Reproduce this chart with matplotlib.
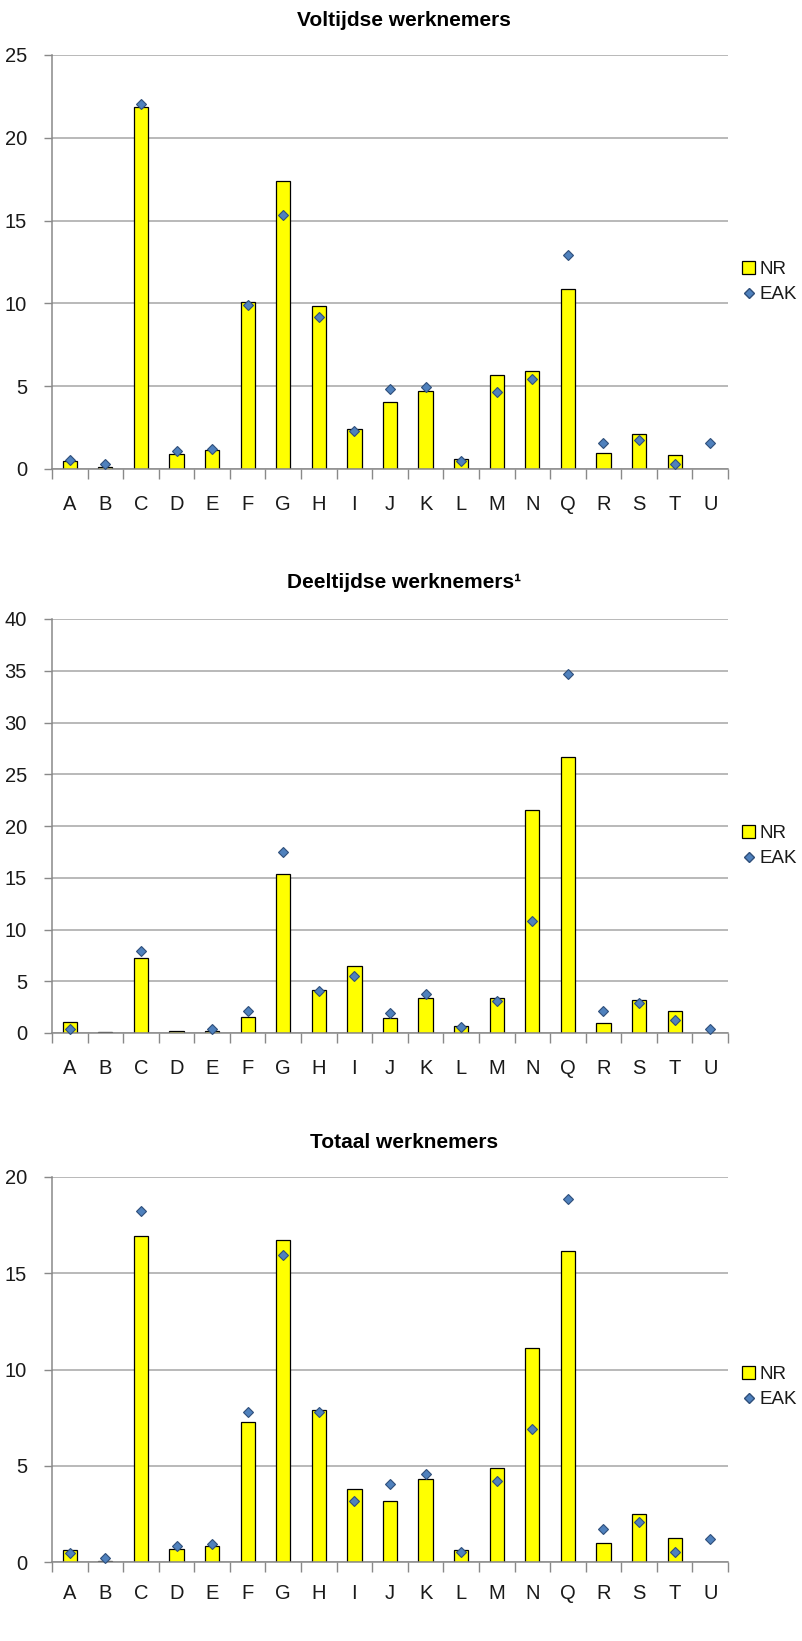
import numpy as np
import matplotlib

matplotlib.use("Agg")
import matplotlib.pyplot as plt
from matplotlib.lines import Line2D
from matplotlib.patches import Patch

plt.rcParams["font.family"] = ["Liberation Sans Narrow", "Liberation Sans", "DejaVu Sans"]

# sector letters (NACE)
sectors = ["A", "B", "C", "D", "E", "F", "G", "H", "I", "J",
           "K", "L", "M", "N", "Q", "R", "S", "T", "U"]

# Voltijdse werknemers
full_nr = [0.48, 0.10, 21.85, 0.93, 1.13, 10.10, 17.40, 9.82, 2.42, 4.03,
           4.71, 0.60, 5.66, 5.90, 10.87, 0.97, 2.10, 0.83, np.nan]
full_eak = [0.55, 0.28, 22.05, 1.09, 1.21, 9.93, 15.34, 9.16, 2.30, 4.83,
            4.95, 0.50, 4.63, 5.43, 12.92, 1.59, 1.77, 0.28, 1.59]

# Deeltijdse werknemers
part_nr = [1.03, 0.06, 7.22, 0.16, 0.16, 1.58, 15.34, 4.12, 6.45, 1.42,
           3.35, 0.71, 3.35, 21.59, 26.68, 0.97, 3.22, 2.09, np.nan]
part_eak = [0.39, np.nan, 7.90, np.nan, 0.35, 2.16, 17.53, 4.09, 5.51, 1.97,
            3.74, 0.61, 3.13, 10.83, 34.71, 2.16, 2.93, 1.26, 0.39]

# Totaal werknemers
total_nr = [0.62, 0.07, 16.96, 0.67, 0.83, 7.28, 16.71, 7.92, 3.77, 3.15,
            4.29, 0.62, 4.88, 11.12, 16.16, 0.97, 2.47, 1.25, np.nan]
total_eak = [0.47, 0.19, 18.22, 0.85, 0.95, 7.80, 15.95, 7.77, 3.15, 4.03,
             4.58, 0.50, 4.22, 6.89, 18.84, 1.71, 2.08, 0.50, 1.21]

W, H = 803, 1641
fig = plt.figure(figsize=(W / 100, H / 100), dpi=100)

BAR_COLOR = "#FFFF00"
DOT_COLOR = "#4F81BD"
DOT_EDGE = "#2F4F7A"
GRID = "#A6A6A6"
FS = 14.5

panels = [
    # title, nr, eak, ymax, step, top px, bottom px, title y px, label pad, legend y px
    ("Voltijdse werknemers", full_nr, full_eak, 25, 5, 55, 469, 20, 19, 282),
    ("Deeltijdse werknemers\u00b9", part_nr, part_eak, 40, 5, 619, 1033, 583, 19, 846),
    ("Totaal werknemers", total_nr, total_eak, 20, 5, 1177, 1562, 1143, 16, 1387),
]

x = np.arange(len(sectors))
for title, nr, eak, ymax, step, top, bot, ty, lpad, legy in panels:
    ax = fig.add_axes([52 / W, 1 - bot / H, (728 - 52) / W, (bot - top) / H])
    ax.bar(x, nr, width=0.4, color=BAR_COLOR, edgecolor="black", linewidth=0.9, zorder=2)
    ax.plot(x, eak, linestyle="none", marker="D", markersize=5.5,
            markerfacecolor=DOT_COLOR, markeredgecolor=DOT_EDGE, markeredgewidth=0.8,
            clip_on=False, zorder=3)

    ax.set_xlim(-0.5, len(sectors) - 0.5)
    ax.set_ylim(0, ymax)
    ax.set_yticks(np.arange(0, ymax + 0.1, step))
    ax.yaxis.grid(True, color=GRID, linewidth=1.1, zorder=0)
    ax.set_axisbelow(True)

    # tick marks between categories, labels at the centres
    ax.set_xticks(np.arange(-0.5, len(sectors), 1.0))
    ax.set_xticklabels([])
    ax.set_xticks(x, minor=True)
    ax.set_xticklabels(sectors, minor=True)
    ax.tick_params(axis="x", which="major", length=7, width=1, color="#898989", direction="out")
    ax.tick_params(axis="x", which="minor", length=0, pad=lpad, labelsize=FS, labelcolor="#1a1a1a")
    ax.tick_params(axis="y", length=6, width=1, color="#898989", pad=12,
                   labelsize=FS, labelcolor="#1a1a1a")

    for side in ("top", "right"):
        ax.spines[side].set_visible(False)
    for side in ("left", "bottom"):
        ax.spines[side].set_color("#898989")
        ax.spines[side].set_linewidth(1.1)

    fig.text(404 / W, 1 - ty / H, title, ha="center", va="center",
             fontsize=15, fontweight="bold", color="black")

    handles = [
        Patch(facecolor=BAR_COLOR, edgecolor="black", linewidth=0.9, label="NR"),
        Line2D([], [], linestyle="none", marker="D", markersize=5.5,
               markerfacecolor=DOT_COLOR, markeredgecolor=DOT_EDGE, label="EAK"),
    ]
    fig.legend(handles=handles, loc="center left",
               bbox_to_anchor=(742 / W, 1 - legy / H), frameon=False,
               fontsize=13.5, handlelength=0.7, handleheight=0.7,
               handletextpad=0.25, labelspacing=0.45, borderaxespad=0,
               borderpad=0, labelcolor="#1a1a1a")

fig.savefig("out.png", dpi=100)
